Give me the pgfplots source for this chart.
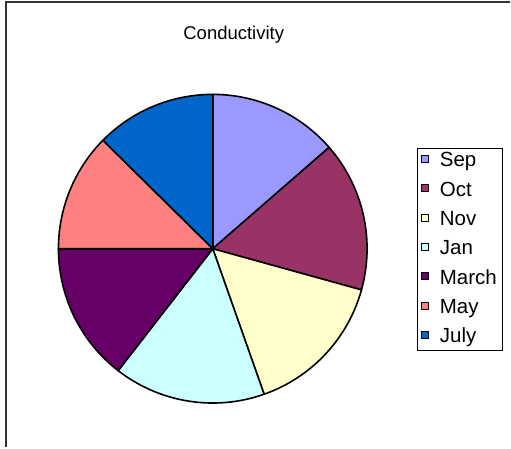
\documentclass[border=0pt]{standalone}
\usepackage{pgfplots}
\pgfplotsset{compat=1.18}
\usepackage{fontspec}
\setmainfont{Liberation Sans}
\definecolor{cSep}{HTML}{9999FF}
\definecolor{cOct}{HTML}{993366}
\definecolor{cNov}{HTML}{FFFFCC}
\definecolor{cJan}{HTML}{CCFFFF}
\definecolor{cMar}{HTML}{660066}
\definecolor{cMay}{HTML}{FF8080}
\definecolor{cJul}{HTML}{0066CC}
% slice values (percent of total)
\def\vSep{13.6}
\def\vOct{15.7}
\def\vNov{15.3}
\def\vJan{15.9}
\def\vMar{14.5}
\def\vMay{12.4}
\def\vJul{12.6}
% centre and radius of the pie (in picture units)
\def\cx{213}
\def\cy{199}
\def\rr{154.5}
\newcommand{\slice}[3]{% #1 cumulative before, #2 value, #3 colour
  \addplot[fill=#3, draw=black, line width=1.6bp, line join=round, domain={90-3.6*(#1+#2)}:{90-3.6*(#1)}, samples=80]
    ({\cx+\rr*cos(x)},{\cy+\rr*sin(x)}) -- (axis cs:\cx,\cy) -- cycle;
}
\begin{document}
\begin{tikzpicture}
\begin{axis}[
  width=511bp, height=448bp, scale only axis,
  xmin=0, xmax=511, ymin=0, ymax=448,
  hide axis, clip=false,
  legend cell align=left,
  legend image code/.code={\path[draw=none,fill=none] (0bp,0bp) -- (17.5bp,0bp);
     \draw[#1,draw=black,line width=0.8bp] (4.5bp,-0.5bp) rectangle (11.5bp,6.5bp);},
  legend style={at={(axis cs:417,299.5)}, anchor=north west, draw=black, line width=0.8bp,
    font=\fontsize{20.5bp}{24bp}\selectfont, inner xsep=0bp, inner ysep=4bp,
    row sep=11.4bp,
    nodes={text height=14bp, text depth=4bp, inner ysep=0bp, inner xsep=5.5bp}},
]
\path (axis cs:0,0) rectangle (axis cs:511,448);
\draw[black!80, line width=1.2bp] (axis cs:6,0) -- (axis cs:6,446) -- (axis cs:511,446);
\node[font=\fontsize{18.5bp}{22bp}\selectfont] at (axis cs:234,413.5) {Conductivity};
\slice{0}{\vSep}{cSep}
\addlegendentry{Sep}
\slice{13.6}{\vOct}{cOct}
\addlegendentry{Oct}
\slice{29.3}{\vNov}{cNov}
\addlegendentry{Nov}
\slice{44.6}{\vJan}{cJan}
\addlegendentry{Jan}
\slice{60.5}{\vMar}{cMar}
\addlegendentry{March}
\slice{75.0}{\vMay}{cMay}
\addlegendentry{May}
\slice{87.4}{\vJul}{cJul}
\addlegendentry{July}
\end{axis}
\end{tikzpicture}
\end{document}
